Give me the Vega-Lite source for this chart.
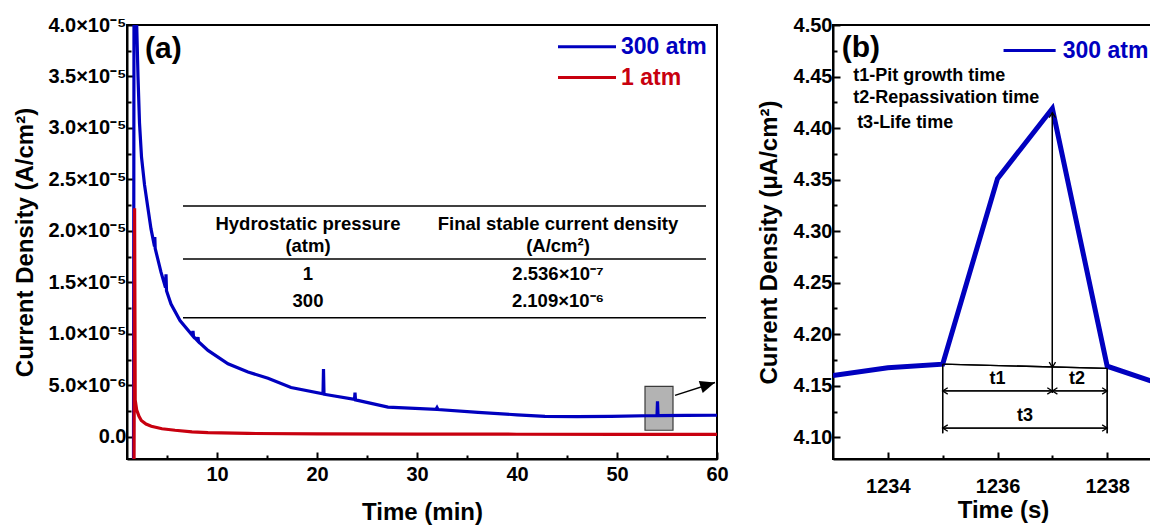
{
  "$schema": "https://vega.github.io/schema/vega-lite/v6.json",
  "padding": {"left": 12, "top": 14, "right": 0, "bottom": 0},
  "spacing": 26,
  "config": {
    "font": "Liberation Sans",
    "view": {"stroke": "black", "strokeWidth": 2},
    "axis": {
      "grid": false,
      "labelFont": "Liberation Sans", "labelFontWeight": "bold", "labelFontSize": 20, "labelColor": "black",
      "titleFont": "Liberation Sans", "titleFontWeight": "bold", "titleFontSize": 24, "titleColor": "black",
      "domainColor": "black", "domainWidth": 2, "tickColor": "black", "tickWidth": 2,
      "labelFlush": false, "labelOverlap": false
    }
  },
  "datasets": {
    "a_curve": [
      {"series": "300 atm", "t": 1.65, "j": -3e-6},
      {"series": "300 atm", "t": 1.72, "j": 6e-5},
      {"series": "300 atm", "t": 1.88, "j": 4.6e-5},
      {"series": "300 atm", "t": 1.97, "j": 4.0e-5},
      {"series": "300 atm", "t": 2.1, "j": 3.5e-5},
      {"series": "300 atm", "t": 2.25, "j": 3.05e-5},
      {"series": "300 atm", "t": 2.45, "j": 2.72e-5},
      {"series": "300 atm", "t": 2.75, "j": 2.45e-5},
      {"series": "300 atm", "t": 3.05, "j": 2.25e-5},
      {"series": "300 atm", "t": 3.4, "j": 2.02e-5},
      {"series": "300 atm", "t": 3.75, "j": 1.85e-5},
      {"series": "300 atm", "t": 3.78, "j": 1.94e-5},
      {"series": "300 atm", "t": 3.82, "j": 1.83e-5},
      {"series": "300 atm", "t": 4.4, "j": 1.6e-5},
      {"series": "300 atm", "t": 4.85, "j": 1.45e-5},
      {"series": "300 atm", "t": 4.9, "j": 1.58e-5},
      {"series": "300 atm", "t": 4.95, "j": 1.42e-5},
      {"series": "300 atm", "t": 5.4, "j": 1.29e-5},
      {"series": "300 atm", "t": 6.3, "j": 1.13e-5},
      {"series": "300 atm", "t": 7.55, "j": 9.85e-6},
      {"series": "300 atm", "t": 7.6, "j": 1.03e-5},
      {"series": "300 atm", "t": 7.65, "j": 9.75e-6},
      {"series": "300 atm", "t": 8.05, "j": 9.35e-6},
      {"series": "300 atm", "t": 8.1, "j": 9.7e-6},
      {"series": "300 atm", "t": 8.15, "j": 9.25e-6},
      {"series": "300 atm", "t": 9.1, "j": 8.4e-6},
      {"series": "300 atm", "t": 11.1, "j": 7.1e-6},
      {"series": "300 atm", "t": 13.1, "j": 6.3e-6},
      {"series": "300 atm", "t": 15.1, "j": 5.7e-6},
      {"series": "300 atm", "t": 17.4, "j": 4.8e-6},
      {"series": "300 atm", "t": 20.6, "j": 4.2e-6},
      {"series": "300 atm", "t": 20.65, "j": 6.6e-6},
      {"series": "300 atm", "t": 20.7, "j": 4.15e-6},
      {"series": "300 atm", "t": 23.75, "j": 3.65e-6},
      {"series": "300 atm", "t": 23.8, "j": 4.3e-6},
      {"series": "300 atm", "t": 23.85, "j": 3.6e-6},
      {"series": "300 atm", "t": 27.1, "j": 2.9e-6},
      {"series": "300 atm", "t": 31.9, "j": 2.68e-6},
      {"series": "300 atm", "t": 32.0, "j": 2.85e-6},
      {"series": "300 atm", "t": 32.1, "j": 2.66e-6},
      {"series": "300 atm", "t": 36.1, "j": 2.39e-6},
      {"series": "300 atm", "t": 40.0, "j": 2.15e-6},
      {"series": "300 atm", "t": 42.8, "j": 2.0e-6},
      {"series": "300 atm", "t": 46.0, "j": 1.98e-6},
      {"series": "300 atm", "t": 49.4, "j": 2.0e-6},
      {"series": "300 atm", "t": 54.0, "j": 2.08e-6},
      {"series": "300 atm", "t": 54.05, "j": 3.45e-6},
      {"series": "300 atm", "t": 54.1, "j": 2.08e-6},
      {"series": "300 atm", "t": 57.0, "j": 2.1e-6},
      {"series": "300 atm", "t": 60.0, "j": 2.11e-6},
      {"series": "1 atm", "t": 1.7, "j": -3e-6},
      {"series": "1 atm", "t": 1.76, "j": 2.22e-5},
      {"series": "1 atm", "t": 1.82, "j": 3.6e-6},
      {"series": "1 atm", "t": 1.97, "j": 2.6e-6},
      {"series": "1 atm", "t": 2.2, "j": 2.0e-6},
      {"series": "1 atm", "t": 2.43, "j": 1.6e-6},
      {"series": "1 atm", "t": 2.9, "j": 1.25e-6},
      {"series": "1 atm", "t": 3.43, "j": 1.04e-6},
      {"series": "1 atm", "t": 4.5, "j": 8.0e-7},
      {"series": "1 atm", "t": 5.8, "j": 6.5e-7},
      {"series": "1 atm", "t": 7.5, "j": 5.0e-7},
      {"series": "1 atm", "t": 9.1, "j": 4.2e-7},
      {"series": "1 atm", "t": 13.1, "j": 3.4e-7},
      {"series": "1 atm", "t": 20.0, "j": 3.0e-7},
      {"series": "1 atm", "t": 30.0, "j": 2.8e-7},
      {"series": "1 atm", "t": 40.0, "j": 2.65e-7},
      {"series": "1 atm", "t": 50.0, "j": 2.6e-7},
      {"series": "1 atm", "t": 60.0, "j": 2.54e-7}
    ],
    "a_box": [{"x1": 52.8, "x2": 55.6, "y1": 4.906e-6, "y2": 6.5e-7}],
    "a_arrow": [{"x1": 55.8, "y1": 4.04e-6, "x2": 59.8, "y2": 5.29e-6}],
    "a_table_rules": [
      {"x1": 6.6, "x2": 58.9, "y": 2.242e-5},
      {"x1": 6.6, "x2": 58.9, "y": 1.729e-5},
      {"x1": 6.6, "x2": 58.9, "y": 1.158e-5}
    ],
    "a_table_text": [
      {"x": 19.1, "y": 2.068e-5, "text": "Hydrostatic pressure"},
      {"x": 19.1, "y": 1.855e-5, "text": "(atm)"},
      {"x": 44.1, "y": 2.068e-5, "text": "Final stable current density"},
      {"x": 44.1, "y": 1.855e-5, "text": "(A/cm²)"},
      {"x": 19.1, "y": 1.584e-5, "text": "1"},
      {"x": 44.1, "y": 1.584e-5, "text": "2.536×10⁻⁷"},
      {"x": 19.1, "y": 1.323e-5, "text": "300"},
      {"x": 44.1, "y": 1.323e-5, "text": "2.109×10⁻⁶"}
    ],
    "a_legend": [
      {"series": "300 atm", "x1": 44.1, "x2": 49.9, "xt": 50.4, "y": 3.79e-5},
      {"series": "1 atm", "x1": 44.1, "x2": 49.9, "xt": 50.4, "y": 3.49e-5}
    ],
    "a_label": [{"x": 2.8, "y": 3.77e-5, "text": "(a)"}],
    "b_curve": [
      {"t": 1233, "j": 4.160},
      {"t": 1234, "j": 4.1675},
      {"t": 1235, "j": 4.171},
      {"t": 1236, "j": 4.351},
      {"t": 1237, "j": 4.419},
      {"t": 1238, "j": 4.169},
      {"t": 1239, "j": 4.151}
    ],
    "b_segs": [
      {"x1": 1235, "y1": 4.171, "x2": 1238, "y2": 4.167},
      {"x1": 1237, "y1": 4.415, "x2": 1237, "y2": 4.143},
      {"x1": 1235, "y1": 4.171, "x2": 1235, "y2": 4.104},
      {"x1": 1238, "y1": 4.167, "x2": 1238, "y2": 4.104},
      {"x1": 1235, "y1": 4.145, "x2": 1238, "y2": 4.145},
      {"x1": 1235, "y1": 4.109, "x2": 1238, "y2": 4.109}
    ],
    "b_heads": [
      {"x": 1235, "y": 4.145, "dir": "left"},
      {"x": 1237, "y": 4.145, "dir": "right"},
      {"x": 1237, "y": 4.145, "dir": "left"},
      {"x": 1238, "y": 4.145, "dir": "right"},
      {"x": 1235, "y": 4.109, "dir": "left"},
      {"x": 1238, "y": 4.109, "dir": "right"},
      {"x": 1237, "y": 4.168, "dir": "down"},
      {"x": 1237, "y": 4.415, "dir": "up"}
    ],
    "b_dims": [
      {"x": 1236.0, "y": 4.157, "text": "t1"},
      {"x": 1237.45, "y": 4.157, "text": "t2"},
      {"x": 1236.5, "y": 4.121, "text": "t3"}
    ],
    "b_notes": [
      {"x": 1233.37, "y": 4.451, "text": "t1-Pit growth time"},
      {"x": 1233.37, "y": 4.429, "text": "t2-Repassivation time"},
      {"x": 1233.44, "y": 4.405, "text": "t3-Life time"}
    ],
    "b_label": [{"x": 1233.16, "y": 4.478, "text": "(b)"}],
    "b_legend": [{"x1": 1236.11, "x2": 1237.06, "xt": 1237.19, "y": 4.4752, "label": "300 atm"}]
  },
  "hconcat": [
    {
      "width": 590,
      "height": 434,
      "resolve": {"axis": {"x": "independent", "y": "independent"}},
      "layer": [
        {
          "data": {"name": "a_box"},
          "mark": {"type": "rect", "fill": "#b3b3b3", "stroke": "#3a3a3a", "strokeWidth": 1.2},
          "encoding": {
            "x": {"field": "x1", "type": "quantitative", "scale": {"domain": [1, 60], "nice": false, "zero": false},
              "axis": {"orient": "bottom", "values": [10, 20, 30, 40, 50, 60], "title": "Time (min)", "tickSize": -7, "labelPadding": 12, "titlePadding": 16}},
            "x2": {"field": "x2"},
            "y": {"field": "y1", "type": "quantitative", "scale": {"domain": [-2.14e-6, 4.0e-5], "nice": false, "zero": false},
              "axis": {"orient": "left", "values": [0, 5e-6, 1e-5, 1.5e-5, 2e-5, 2.5e-5, 3e-5, 3.5e-5, 4e-5], "title": "Current Density (A/cm²)", "tickSize": -7, "labelPadding": 8, "titlePadding": 10,
                "labelExpr": "datum.value == 0 ? '0.0' : (datum.value < 9.9e-6 ? format(datum.value * 1e6, '.1f') + '×10⁻⁶' : format(datum.value * 1e5, '.1f') + '×10⁻⁵')"}},
            "y2": {"field": "y2"}
          }
        },
        {
          "data": {"name": "a_curve"},
          "transform": [{"filter": "datum.series == '300 atm'"}],
          "mark": {"type": "line", "color": "#0000bf", "strokeWidth": 3.2, "clip": true},
          "encoding": {
            "x": {"field": "t", "type": "quantitative", "scale": {"domain": [1, 60], "nice": false, "zero": false},
              "axis": {"orient": "bottom", "values": [5, 15, 25, 35, 45, 55], "title": null, "labels": false, "domain": false, "tickSize": -4}},
            "y": {"field": "j", "type": "quantitative", "scale": {"domain": [-2.14e-6, 4.0e-5], "nice": false, "zero": false},
              "axis": {"orient": "left", "values": [2.5e-6, 7.5e-6, 1.25e-5, 1.75e-5, 2.25e-5, 2.75e-5, 3.25e-5, 3.75e-5], "title": null, "labels": false, "domain": false, "tickSize": -4}}
          }
        },
        {
          "data": {"name": "a_curve"},
          "transform": [{"filter": "datum.series == '1 atm'"}],
          "mark": {"type": "line", "color": "#c8000f", "strokeWidth": 3.2, "clip": true},
          "encoding": {
            "x": {"field": "t", "type": "quantitative", "scale": {"domain": [1, 60], "nice": false, "zero": false}, "axis": null},
            "y": {"field": "j", "type": "quantitative", "scale": {"domain": [-2.14e-6, 4.0e-5], "nice": false, "zero": false}, "axis": null}
          }
        },
        {
          "data": {"name": "a_arrow"},
          "mark": {"type": "rule", "color": "black", "strokeWidth": 1.5},
          "encoding": {
            "x": {"field": "x1", "type": "quantitative", "scale": {"domain": [1, 60], "nice": false, "zero": false}, "axis": null},
            "y": {"field": "y1", "type": "quantitative", "scale": {"domain": [-2.14e-6, 4.0e-5], "nice": false, "zero": false}, "axis": null},
            "x2": {"field": "x2"},
            "y2": {"field": "y2"}
          }
        },
        {
          "data": {"name": "a_arrow"},
          "mark": {"type": "point", "shape": "M -1 -0.42 L 0 0 L -1 0.42 Z", "filled": true, "color": "black", "opacity": 1, "size": 900, "angle": -18},
          "encoding": {
            "x": {"field": "x2", "type": "quantitative", "scale": {"domain": [1, 60], "nice": false, "zero": false}, "axis": null},
            "y": {"field": "y2", "type": "quantitative", "scale": {"domain": [-2.14e-6, 4.0e-5], "nice": false, "zero": false}, "axis": null}
          }
        },
        {
          "data": {"name": "a_table_rules"},
          "mark": {"type": "rule", "color": "black", "strokeWidth": 1.5},
          "encoding": {
            "x": {"field": "x1", "type": "quantitative", "scale": {"domain": [1, 60], "nice": false, "zero": false}, "axis": null},
            "x2": {"field": "x2"},
            "y": {"field": "y", "type": "quantitative", "scale": {"domain": [-2.14e-6, 4.0e-5], "nice": false, "zero": false}, "axis": null}
          }
        },
        {
          "data": {"name": "a_table_text"},
          "mark": {"type": "text", "font": "Liberation Sans", "fontWeight": "bold", "fontSize": 18.5, "color": "black", "align": "center", "baseline": "middle"},
          "encoding": {
            "x": {"field": "x", "type": "quantitative", "scale": {"domain": [1, 60], "nice": false, "zero": false}, "axis": null},
            "y": {"field": "y", "type": "quantitative", "scale": {"domain": [-2.14e-6, 4.0e-5], "nice": false, "zero": false}, "axis": null},
            "text": {"field": "text"}
          }
        },
        {
          "data": {"name": "a_legend"},
          "mark": {"type": "rule", "strokeWidth": 3},
          "encoding": {
            "x": {"field": "x1", "type": "quantitative", "scale": {"domain": [1, 60], "nice": false, "zero": false}, "axis": null},
            "x2": {"field": "x2"},
            "y": {"field": "y", "type": "quantitative", "scale": {"domain": [-2.14e-6, 4.0e-5], "nice": false, "zero": false}, "axis": null},
            "color": {"field": "series", "type": "nominal", "scale": {"domain": ["300 atm", "1 atm"], "range": ["#0000bf", "#c8000f"]}, "legend": null}
          }
        },
        {
          "data": {"name": "a_legend"},
          "mark": {"type": "text", "font": "Liberation Sans", "fontWeight": "bold", "fontSize": 23, "align": "left", "baseline": "middle"},
          "encoding": {
            "x": {"field": "xt", "type": "quantitative", "scale": {"domain": [1, 60], "nice": false, "zero": false}, "axis": null},
            "y": {"field": "y", "type": "quantitative", "scale": {"domain": [-2.14e-6, 4.0e-5], "nice": false, "zero": false}, "axis": null},
            "text": {"field": "series"},
            "color": {"field": "series", "type": "nominal", "scale": {"domain": ["300 atm", "1 atm"], "range": ["#0000bf", "#c8000f"]}, "legend": null}
          }
        },
        {
          "data": {"name": "a_label"},
          "mark": {"type": "text", "font": "Liberation Sans", "fontWeight": "bold", "fontSize": 30, "color": "black", "align": "left", "baseline": "middle"},
          "encoding": {
            "x": {"field": "x", "type": "quantitative", "scale": {"domain": [1, 60], "nice": false, "zero": false}, "axis": null},
            "y": {"field": "y", "type": "quantitative", "scale": {"domain": [-2.14e-6, 4.0e-5], "nice": false, "zero": false}, "axis": null},
            "text": {"field": "text"}
          }
        }
      ]
    },
    {
      "width": 340,
      "height": 434,
      "resolve": {"axis": {"x": "independent", "y": "independent"}},
      "layer": [
        {
          "data": {"name": "b_segs"},
          "mark": {"type": "rule", "color": "black", "strokeWidth": 1.3},
          "encoding": {
            "x": {"field": "x1", "type": "quantitative", "scale": {"domain": [1233, 1239.2], "nice": false, "zero": false},
              "axis": {"orient": "bottom", "values": [1234, 1236, 1238], "title": "Time (s)", "tickSize": -7, "labelPadding": 24, "titlePadding": 2, "format": "d"}},
            "y": {"field": "y1", "type": "quantitative", "scale": {"domain": [4.079, 4.5], "nice": false, "zero": false},
              "axis": {"orient": "left", "values": [4.1, 4.15, 4.2, 4.25, 4.3, 4.35, 4.4, 4.45, 4.5], "title": "Current Density (μA/cm²)", "tickSize": -7, "labelPadding": 8, "titlePadding": 12, "format": ".2f"}},
            "x2": {"field": "x2"},
            "y2": {"field": "y2"}
          }
        },
        {
          "data": {"name": "b_curve"},
          "mark": {"type": "line", "color": "#0000bf", "strokeWidth": 5, "clip": true},
          "encoding": {
            "x": {"field": "t", "type": "quantitative", "scale": {"domain": [1233, 1239.2], "nice": false, "zero": false},
              "axis": {"orient": "bottom", "values": [1235, 1237, 1239], "title": null, "labels": false, "domain": false, "tickSize": -4}},
            "y": {"field": "j", "type": "quantitative", "scale": {"domain": [4.079, 4.5], "nice": false, "zero": false},
              "axis": {"orient": "left", "values": [4.125, 4.175, 4.225, 4.275, 4.325, 4.375, 4.425, 4.475], "title": null, "labels": false, "domain": false, "tickSize": -4}}
          }
        },
        {
          "data": {"name": "b_segs"},
          "mark": {"type": "rule", "color": "black", "strokeWidth": 1.3},
          "encoding": {
            "x": {"field": "x1", "type": "quantitative", "scale": {"domain": [1233, 1239.2], "nice": false, "zero": false}, "axis": null},
            "y": {"field": "y1", "type": "quantitative", "scale": {"domain": [4.079, 4.5], "nice": false, "zero": false}, "axis": null},
            "x2": {"field": "x2"},
            "y2": {"field": "y2"}
          }
        },
        {
          "data": {"name": "b_heads"},
          "transform": [{"filter": "datum.dir == 'right'"}],
          "mark": {"type": "point", "shape": "M -1.6 -1 L 0 0 L -1.6 1", "filled": false, "color": "black", "opacity": 1, "strokeWidth": 1.3, "size": 40},
          "encoding": {
            "x": {"field": "x", "type": "quantitative", "scale": {"domain": [1233, 1239.2], "nice": false, "zero": false}, "axis": null},
            "y": {"field": "y", "type": "quantitative", "scale": {"domain": [4.079, 4.5], "nice": false, "zero": false}, "axis": null}
          }
        },
        {
          "data": {"name": "b_heads"},
          "transform": [{"filter": "datum.dir == 'left'"}],
          "mark": {"type": "point", "shape": "M -1.6 -1 L 0 0 L -1.6 1", "filled": false, "color": "black", "opacity": 1, "strokeWidth": 1.3, "size": 40, "angle": 180},
          "encoding": {
            "x": {"field": "x", "type": "quantitative", "scale": {"domain": [1233, 1239.2], "nice": false, "zero": false}, "axis": null},
            "y": {"field": "y", "type": "quantitative", "scale": {"domain": [4.079, 4.5], "nice": false, "zero": false}, "axis": null}
          }
        },
        {
          "data": {"name": "b_heads"},
          "transform": [{"filter": "datum.dir == 'down'"}],
          "mark": {"type": "point", "shape": "M -1.6 -1 L 0 0 L -1.6 1", "filled": false, "color": "black", "opacity": 1, "strokeWidth": 1.3, "size": 40, "angle": 90},
          "encoding": {
            "x": {"field": "x", "type": "quantitative", "scale": {"domain": [1233, 1239.2], "nice": false, "zero": false}, "axis": null},
            "y": {"field": "y", "type": "quantitative", "scale": {"domain": [4.079, 4.5], "nice": false, "zero": false}, "axis": null}
          }
        },
        {
          "data": {"name": "b_heads"},
          "transform": [{"filter": "datum.dir == 'up'"}],
          "mark": {"type": "point", "shape": "M -1.6 -1 L 0 0 L -1.6 1", "filled": false, "color": "black", "opacity": 1, "strokeWidth": 1.3, "size": 40, "angle": -90},
          "encoding": {
            "x": {"field": "x", "type": "quantitative", "scale": {"domain": [1233, 1239.2], "nice": false, "zero": false}, "axis": null},
            "y": {"field": "y", "type": "quantitative", "scale": {"domain": [4.079, 4.5], "nice": false, "zero": false}, "axis": null}
          }
        },
        {
          "data": {"name": "b_dims"},
          "mark": {"type": "text", "font": "Liberation Sans", "fontWeight": "bold", "fontSize": 18, "color": "black", "align": "center", "baseline": "middle"},
          "encoding": {
            "x": {"field": "x", "type": "quantitative", "scale": {"domain": [1233, 1239.2], "nice": false, "zero": false}, "axis": null},
            "y": {"field": "y", "type": "quantitative", "scale": {"domain": [4.079, 4.5], "nice": false, "zero": false}, "axis": null},
            "text": {"field": "text"}
          }
        },
        {
          "data": {"name": "b_notes"},
          "mark": {"type": "text", "font": "Liberation Sans", "fontWeight": "bold", "fontSize": 18, "color": "black", "align": "left", "baseline": "middle"},
          "encoding": {
            "x": {"field": "x", "type": "quantitative", "scale": {"domain": [1233, 1239.2], "nice": false, "zero": false}, "axis": null},
            "y": {"field": "y", "type": "quantitative", "scale": {"domain": [4.079, 4.5], "nice": false, "zero": false}, "axis": null},
            "text": {"field": "text"}
          }
        },
        {
          "data": {"name": "b_label"},
          "mark": {"type": "text", "font": "Liberation Sans", "fontWeight": "bold", "fontSize": 30, "color": "black", "align": "left", "baseline": "middle"},
          "encoding": {
            "x": {"field": "x", "type": "quantitative", "scale": {"domain": [1233, 1239.2], "nice": false, "zero": false}, "axis": null},
            "y": {"field": "y", "type": "quantitative", "scale": {"domain": [4.079, 4.5], "nice": false, "zero": false}, "axis": null},
            "text": {"field": "text"}
          }
        },
        {
          "data": {"name": "b_legend"},
          "mark": {"type": "rule", "color": "#0000bf", "strokeWidth": 3},
          "encoding": {
            "x": {"field": "x1", "type": "quantitative", "scale": {"domain": [1233, 1239.2], "nice": false, "zero": false}, "axis": null},
            "x2": {"field": "x2"},
            "y": {"field": "y", "type": "quantitative", "scale": {"domain": [4.079, 4.5], "nice": false, "zero": false}, "axis": null}
          }
        },
        {
          "data": {"name": "b_legend"},
          "mark": {"type": "text", "font": "Liberation Sans", "fontWeight": "bold", "fontSize": 23, "color": "#0000bf", "align": "left", "baseline": "middle"},
          "encoding": {
            "x": {"field": "xt", "type": "quantitative", "scale": {"domain": [1233, 1239.2], "nice": false, "zero": false}, "axis": null},
            "y": {"field": "y", "type": "quantitative", "scale": {"domain": [4.079, 4.5], "nice": false, "zero": false}, "axis": null},
            "text": {"field": "label"}
          }
        }
      ]
    }
  ]
}
